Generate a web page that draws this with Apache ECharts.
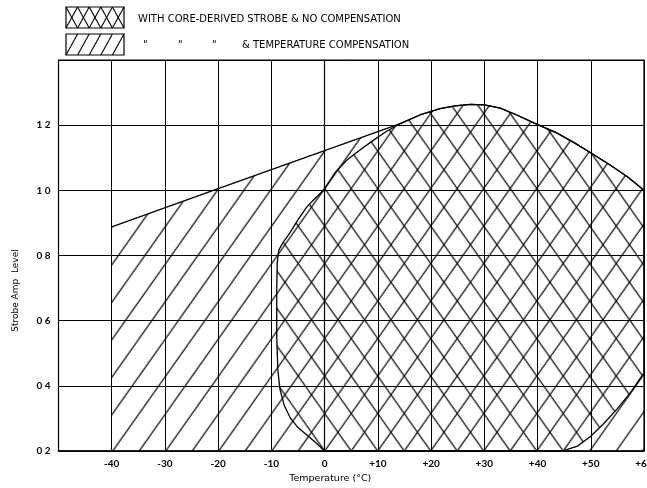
<!DOCTYPE html>
<html><head><meta charset="utf-8">
<script src="https://cdn.jsdelivr.net/npm/echarts@6/dist/echarts.min.js"></script>
<style>html,body{margin:0;padding:0;background:#fff}#c{width:647px;height:488px}</style>
</head><body><div id="c"></div>
<script>
// ---- axis settings ----
const xMin = -50, xMax = 60, xStep = 10;
const yMin = 0.2, yMax = 1.4, yStep = 0.2;
const xTickLabels = ['', '-40', '-30', '-20', '-10', '0', '+10', '+20', '+30', '+40', '+50', '+60'];
const yTickLabels = ['0 2', '0 4', '0 6', '0 8', '1 0', '1 2', ''];
const xTitle = 'Temperature (\u00B0C)';
const yTitle = 'Strobe Amp  Level';

// ---- region with temperature compensation (upper envelope) ----
const compTemp  = [-40, -20, 0, 14.2, 18, 21.7, 24.5, 27.4, 30, 33, 36, 39.6, 43.5, 47.1, 50.5, 53.7, 57, 60];
const compLevel = [0.888, 1.005, 1.122, 1.205, 1.232, 1.251, 1.259, 1.264, 1.262, 1.252, 1.232, 1.205, 1.177, 1.144, 1.11, 1.077, 1.04, 1.0];

// ---- region with core-derived strobe & no compensation (closed boundary) ----
const coreTemp  = [0, 44.6, 47.5, 50, 52.5, 55, 57.5, 60, 60, 57, 53.7, 50.5, 47.1, 43.5, 39.6, 36, 33, 30, 27.4, 24.5, 21.7, 18, 14.2, 11.5, 9.2, 6.5, 4.2, 2, -0.2, -1.8, -3.3, -5, -6.5, -7.8, -8.6, -8.9, -9, -9, -8.8, -8.4, -7.6, -6.4, -5.0, -3.4, -1.7, 0];
const coreLevel = [0.2, 0.2, 0.215, 0.245, 0.285, 0.33, 0.38, 0.44, 1.0, 1.04, 1.077, 1.11, 1.144, 1.177, 1.205, 1.232, 1.252, 1.262, 1.264, 1.259, 1.251, 1.232, 1.205, 1.18, 1.154, 1.122, 1.093, 1.055, 1.0, 0.975, 0.95, 0.91, 0.87, 0.84, 0.817, 0.78, 0.7, 0.55, 0.45, 0.39, 0.34, 0.30, 0.272, 0.25, 0.226, 0.2];

const legendLine1 = 'WITH CORE-DERIVED STROBE & NO COMPENSATION';
const legendDitto = '"';
const legendLine2 = '& TEMPERATURE COMPENSATION';

// ---- hatch tiles ----
function hatchTile(dir) {
  const d = 26.5, h = 37.5;
  const c = document.createElement('canvas');
  c.width = 53; c.height = 75;
  const ctx = c.getContext('2d');
  ctx.strokeStyle = '#000';
  ctx.lineWidth = 1.2;
  ctx.beginPath();
  for (let n = -6; n <= 8; n++) {
    if (dir === '/') {
      ctx.moveTo(n * d + 4 * d, -4 * h);
      ctx.lineTo(n * d - 8 * d, 8 * h);
    } else {
      ctx.moveTo(n * d - 4 * d, -4 * h);
      ctx.lineTo(n * d + 8 * d, 8 * h);
    }
  }
  ctx.stroke();
  return c;
}
const tileSlash = hatchTile('/');
const tileBack = hatchTile('\\');

function pattern(tile, o) { return { image: tile, repeat: 'repeat', x: o[0], y: o[1] }; }

const chart = echarts.init(document.getElementById('c'), null, { renderer: 'canvas' });
const FONT = 'Lato';
const LFONT = 'DejaVu Sans';

function legendGraphics() {
  const els = [];
  const boxes = [{ x: 66, y: 7, w: 58, h: 21, type: 'x' }, { x: 66, y: 34, w: 58, h: 21, type: '/' }];
  boxes.forEach(b => {
    els.push({ type: 'rect', shape: { x: b.x, y: b.y, width: b.w, height: b.h }, style: { fill: '#fff', stroke: '#000', lineWidth: 1.2 }, silent: true });
    const cw = b.w / 5;
    for (let i = 0; i < 5; i++) {
      const x0 = b.x + i * cw, x1 = x0 + cw;
      els.push({ type: 'line', shape: { x1: x0, y1: b.y + b.h, x2: x1, y2: b.y }, style: { stroke: '#000', lineWidth: 1.1 }, silent: true });
      if (b.type === 'x') {
        els.push({ type: 'line', shape: { x1: x0, y1: b.y, x2: x1, y2: b.y + b.h }, style: { stroke: '#000', lineWidth: 1.1 }, silent: true });
      }
    }
  });
  const ts = { fill: '#000', fontSize: 10, fontFamily: LFONT, verticalAlign: 'middle' };
  els.push({ type: 'text', x: 138, y: 19, style: Object.assign({ text: legendLine1 }, ts), silent: true });
  [143, 178, 212].forEach(x => els.push({ type: 'text', x: x, y: 45, style: Object.assign({ text: legendDitto }, ts), silent: true }));
  els.push({ type: 'text', x: 242, y: 45, style: Object.assign({ text: legendLine2 }, ts), silent: true });
  return els;
}

function buildOption(o) {
  return {
    animation: false,
    backgroundColor: '#fff',
    grid: { left: 58.5, right: 3, top: 60, bottom: 37, show: true, borderColor: '#000', borderWidth: 1.2,
      backgroundColor: 'transparent', containLabel: false, outerBoundsMode: 'none' },
    xAxis: {
      type: 'value', min: xMin, max: xMax, interval: xStep,
      name: xTitle, nameLocation: 'middle', nameGap: 18,
      nameTextStyle: { color: '#000', fontSize: 9.5, fontFamily: LFONT, padding: [0, 42, 0, 0] },
      axisLine: { show: true, lineStyle: { color: '#000', width: 1.6 } },
      axisTick: { show: false },
      axisLabel: { color: '#000', fontSize: 10, fontWeight: 'bold', fontFamily: FONT, margin: 8,
        formatter: v => xTickLabels[Math.round((v - xMin) / xStep)] || '' },
      splitLine: { show: true, lineStyle: { color: '#000', width: 1 } }
    },
    yAxis: {
      type: 'value', min: yMin, max: yMax, interval: yStep,
      name: yTitle, nameLocation: 'middle', nameGap: 38, nameRotate: 90,
      nameTextStyle: { color: '#000', fontSize: 9, fontFamily: LFONT, padding: [0, 70, 0, 0] },
      axisLine: { show: true, lineStyle: { color: '#000', width: 1.2 } },
      axisTick: { show: false },
      axisLabel: { color: '#000', fontSize: 10, fontWeight: 'bold', fontFamily: FONT, margin: 8,
        formatter: v => yTickLabels[Math.round((v - yMin) / yStep)] || '' },
      splitLine: { show: true, lineStyle: { color: '#000', width: 1 } }
    },
    series: [
      {
        name: 'Temperature compensation', type: 'line', silent: true,
        data: compTemp.map((t, i) => [t, compLevel[i]]),
        symbol: 'none', color: '#000',
        lineStyle: { color: '#000', width: 1.3 },
        areaStyle: { origin: 'start', color: pattern(tileSlash, o), opacity: 1 },
        z: 3
      },
      {
        name: 'No compensation', type: 'custom', silent: true,
        data: coreTemp.map((t, i) => [t, coreLevel[i]]),
        encode: { x: 0, y: 1 },
        renderItem: function (params, api) {
          if (params.dataIndex !== 0) return null;
          const pts = coreTemp.map((t, i) => api.coord([t, coreLevel[i]]));
          return { type: 'polygon', shape: { points: pts },
            style: { fill: pattern(tileBack, o), stroke: '#000', lineWidth: 1.3 } };
        },
        z: 4
      }
    ],
    graphic: legendGraphics()
  };
}

chart.setOption(buildOption([0, 0]));
const origin = chart.convertToPixel({ gridIndex: 0 }, [0, yMin]);
chart.setOption(buildOption(origin), true);
</script>
</body></html>
